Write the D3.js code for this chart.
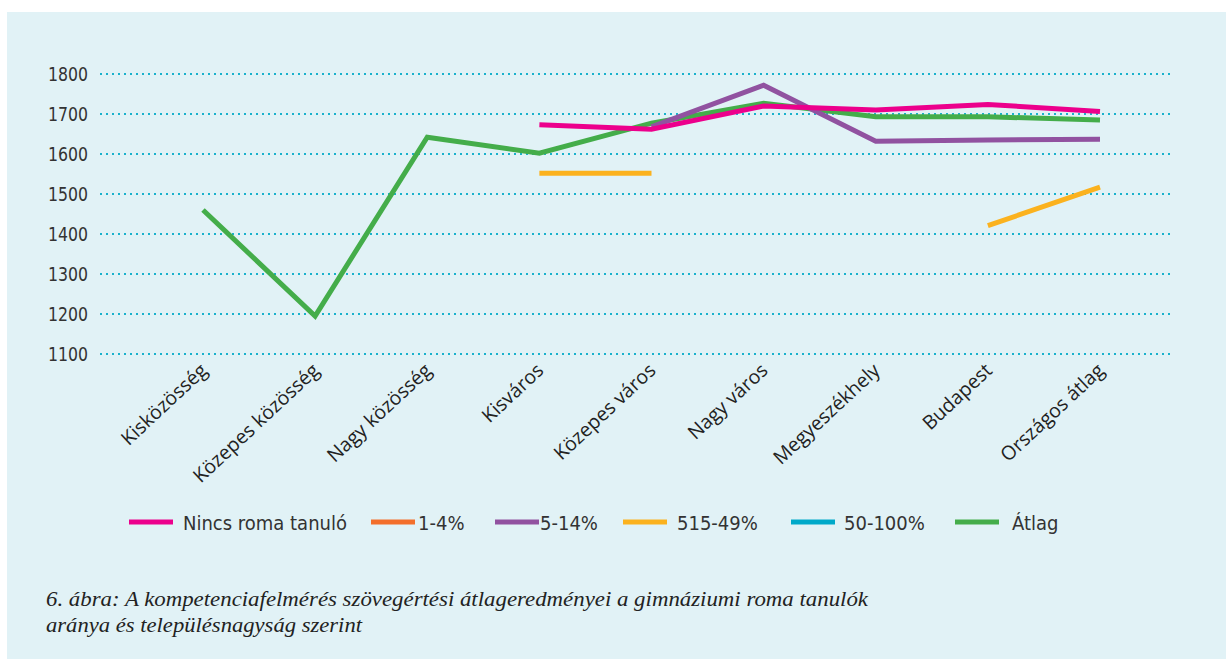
<!DOCTYPE html>
<html>
<head>
<meta charset="utf-8">
<script src="https://cdn.jsdelivr.net/npm/d3@7"></script>
<style>
  body { margin: 0; background: #fff; }
  svg { display: block; }
</style>
</head>
<body>
<script>
// categories (settlement size)
var categories = ["Kisközösség", "Közepes közösség", "Nagy közösség", "Kisváros",
    "Közepes város", "Nagy város", "Megyeszékhely", "Budapest", "Országos átlag"];

// series values, null = no data
var nincsRoma = [null, null, null, 1673, 1662, 1720, 1710, 1724, 1706];
var egyNegy   = [null, null, null, null, null, null, null, null, null];
var otTizenot = [null, null, null, null, 1668, 1772, 1632, 1635, 1637];
var otNegyven = [null, null, null, 1552, 1552, null, null, 1421, 1517];
var otvenSzaz = [null, null, null, null, null, null, null, null, null];
var atlag     = [1460, 1195, 1642, 1602, 1677, 1727, 1693, 1693, 1685];

var yTicks = [1100, 1200, 1300, 1400, 1500, 1600, 1700, 1800];

var seriesNames = ["Nincs roma tanuló", "1-4%", "5-14%", "515-49%", "50-100%", "Átlag"];
var seriesColors = ["#ec008c", "#f36f2b", "#9152a0", "#fbb21e", "#00a9c9", "#44ad4a"];

var series = [nincsRoma, egyNegy, otTizenot, otNegyven, otvenSzaz, atlag];

var W = 1226, H = 659;
var svg = d3.select("body").append("svg").attr("width", W).attr("height", H);

// light blue panel
svg.append("rect").attr("x", 7).attr("y", 12).attr("width", W - 7).attr("height", H - 12)
    .attr("fill", "#e1f2f6");

var x = d3.scalePoint().domain(categories).range([203, 1100]);
var y = d3.scaleLinear().domain([1100, 1800]).range([354, 74]);

// grid lines
svg.append("g").selectAll("line")
    .data(yTicks)
    .enter()
    .append("line")
    .attr("x1", 100).attr("x2", 1170)
    .attr("y1", function(d) { return y(d); })
    .attr("y2", function(d) { return y(d); })
    .attr("stroke", "#19b1cc")
    .attr("stroke-width", 2)
    .attr("stroke-dasharray", "2,4");

// y axis labels
var yAxis = d3.axisLeft(y).tickValues(yTicks).tickFormat(d3.format("d")).tickSize(0).tickPadding(0);
var gy = svg.append("g").attr("transform", "translate(88,0)").call(yAxis);
gy.select(".domain").remove();
gy.selectAll("text")
    .attr("fill", "#333")
    .attr("textLength", 40)
    .attr("lengthAdjust", "spacingAndGlyphs")
    .style("font-family", "'DejaVu Sans Condensed', 'DejaVu Sans', sans-serif")
    .style("font-size", "19px");

// x category labels
var xAxis = d3.axisBottom(x).tickSize(0).tickPadding(0);
var gx = svg.append("g").attr("transform", "translate(0,372)").call(xAxis);
gx.select(".domain").remove();
gx.selectAll("text")
    .attr("fill", "#222")
    .attr("dy", 0)
    .attr("y", 0)
    .attr("transform", "translate(5,0) rotate(-43)")
    .style("text-anchor", "end")
    .style("font-family", "'Open Sans', sans-serif")
    .style("font-size", "19.5px");

// lines
var line = d3.line()
    .defined(function(d) { return d != null; })
    .x(function(d, i) { return x(categories[i]); })
    .y(function(d) { return y(d); });

var order = [5, 2, 0, 3, 1, 4];
order.forEach(function(k) {
    svg.append("path")
        .datum(series[k])
        .attr("d", line)
        .attr("fill", "none")
        .attr("stroke", seriesColors[k])
        .attr("stroke-width", 5);
});

// legend
var legendX = [129, 371, 495, 623, 791, 955];
var textX = [183, 418, 540, 677, 844, 1012];
var lg = svg.append("g");
seriesNames.forEach(function(name, i) {
    lg.append("line")
        .attr("x1", legendX[i]).attr("x2", legendX[i] + 44)
        .attr("y1", 522).attr("y2", 522)
        .attr("stroke", seriesColors[i])
        .attr("stroke-width", 5);
    lg.append("text")
        .attr("x", textX[i])
        .attr("y", 530)
        .attr("fill", "#333")
        .style("font-family", "'DejaVu Sans Condensed', 'DejaVu Sans', sans-serif")
        .style("font-size", "20px")
        .text(name);
});

// caption
var cap = svg.append("g")
    .style("font-family", "'Liberation Serif', serif")
    .style("font-style", "italic")
    .style("font-size", "21px")
    .attr("fill", "#222");
cap.append("text").attr("x", 46).attr("y", 606)
    .attr("textLength", 822).attr("lengthAdjust", "spacingAndGlyphs")
    .text("6. ábra: A kompetenciafelmérés szövegértési átlageredményei a gimnáziumi roma tanulók");
cap.append("text").attr("x", 46).attr("y", 632)
    .attr("textLength", 316).attr("lengthAdjust", "spacingAndGlyphs")
    .text("aránya és településnagyság szerint");
</script>
</body>
</html>
